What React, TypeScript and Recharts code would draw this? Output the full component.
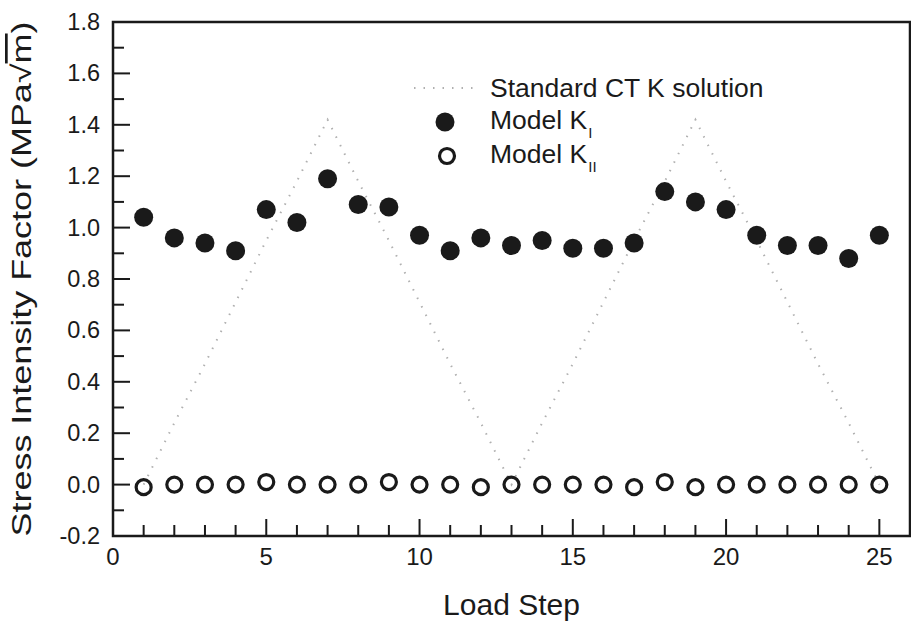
import { ComposedChart, Line, Scatter, XAxis, YAxis, Legend, ReferenceArea } from 'recharts';

// load steps and values
const STEPS = [1, 2, 3, 4, 5, 6, 7, 8, 9, 10, 11, 12, 13, 14, 15, 16, 17, 18, 19, 20, 21, 22, 23, 24, 25];
const K_STANDARD = [0.0, 0.24, 0.47, 0.71, 0.95, 1.18, 1.42, 1.18, 0.95, 0.71, 0.47, 0.24, 0.0, 0.24, 0.47, 0.71, 0.95, 1.18, 1.42, 1.18, 0.95, 0.71, 0.47, 0.24, 0.0];
const K_I = [1.04, 0.96, 0.94, 0.91, 1.07, 1.02, 1.19, 1.09, 1.08, 0.97, 0.91, 0.96, 0.93, 0.95, 0.92, 0.92, 0.94, 1.14, 1.1, 1.07, 0.97, 0.93, 0.93, 0.88, 0.97];
const K_II = [-0.01, 0.0, 0.0, 0.0, 0.01, 0.0, 0.0, 0.0, 0.01, 0.0, 0.0, -0.01, 0.0, 0.0, 0.0, 0.0, -0.01, 0.01, -0.01, 0.0, 0.0, 0.0, 0.0, 0.0, 0.0];

const X_TICKS = [0, 1, 2, 3, 4, 5, 6, 7, 8, 9, 10, 11, 12, 13, 14, 15, 16, 17, 18, 19, 20, 21, 22, 23, 24, 25, 26];
const Y_TICKS = [-0.2, -0.1, 0, 0.1, 0.2, 0.3, 0.4, 0.5, 0.6, 0.7, 0.8, 0.9, 1.0, 1.1, 1.2, 1.3, 1.4, 1.5, 1.6, 1.7, 1.8];

const data = STEPS.map((step, i) => ({ step, std: K_STANDARD[i], kI: K_I[i], kII: K_II[i] }));

const FONT = '"Liberation Sans", Arial, Helvetica, sans-serif';
const INK = '#1a1a1a';
const MAJOR = 17;
const MINOR = 11;

const isMajorX = (v: number) => v % 5 === 0;
const isMajorY = (v: number) => Math.round(v * 10) % 2 === 0;

const BottomTick = ({ x, y, payload }: any) => {
  const major = isMajorX(payload.value);
  return (
    <g>
      <path d={`M${x},${y}V${y - (major ? MAJOR : MINOR)}`} stroke={INK} strokeWidth={2} fill="none" />
      {major && (
        <text x={x} y={y + 29} textAnchor="middle" fontSize={24} fontFamily={FONT} fill={INK}>
          {payload.value}
        </text>
      )}
    </g>
  );
};

const TopTick = ({ x, y, payload }: any) => {
  const major = isMajorX(payload.value);
  return <path d={`M${x},${y}V${y + (major ? MAJOR : MINOR)}`} stroke={INK} strokeWidth={2} fill="none" />;
};

const LeftTick = ({ x, y, payload }: any) => {
  const major = isMajorY(payload.value);
  return (
    <g>
      <path d={`M${x},${y}H${x + (major ? MAJOR : MINOR)}`} stroke={INK} strokeWidth={2} fill="none" />
      {major && (
        <text x={x - 13} y={y + 8} textAnchor="end" fontSize={23.5} fontFamily={FONT} fill={INK}>
          {Number(payload.value).toFixed(1)}
        </text>
      )}
    </g>
  );
};

const RightTick = ({ x, y, payload }: any) => {
  const major = isMajorY(payload.value);
  return <path d={`M${x},${y}H${x - (major ? MAJOR : MINOR)}`} stroke={INK} strokeWidth={2} fill="none" />;
};

const YTitle = (props: any) => {
  const vb = props.viewBox || { x: 0, y: 22, width: 113, height: 514 };
  const cx = vb.x + 22;
  const cy = vb.y + vb.height / 2;
  return (
    <text
      x={cx}
      y={cy}
      transform={`rotate(-90 ${cx} ${cy})`}
      textAnchor="middle"
      dominantBaseline="central"
      fontSize={27}
      fontFamily={FONT}
      fill={INK}
      textLength={515}
      lengthAdjust="spacingAndGlyphs"
    >
      Stress Intensity Factor (MPa√<tspan style={{ textDecoration: 'overline' }}>m</tspan>)
    </text>
  );
};

const FilledDot = (props: any) => <circle cx={props.cx} cy={props.cy} r={9.5} fill={INK} />;
const OpenDot = (props: any) => (
  <circle cx={props.cx} cy={props.cy} r={7.5} fill="none" stroke={INK} strokeWidth={3.2} />
);

const LegendRow = ({ marker, children }: any) => (
  <div style={{ display: 'flex', alignItems: 'center', height: 34 }}>
    <svg width={70} height={34}>{marker}</svg>
    <span style={{ marginLeft: 10, whiteSpace: 'nowrap' }}>{children}</span>
  </div>
);

const sub = { fontSize: 15, position: 'relative' as const, top: 9, marginLeft: 1 };

const renderLegend = () => (
  <div style={{ fontFamily: FONT, fontSize: 26.5, color: INK, lineHeight: '34px' }}>
    <LegendRow
      marker={<line x1={4} x2={68} y1={17} y2={17} stroke="#b0b0b0" strokeWidth={2} strokeDasharray="1.5 8" />}
    >
      Standard CT K solution
    </LegendRow>
    <LegendRow marker={<circle cx={35} cy={17} r={9.5} fill={INK} />}>
      Model K<span style={sub}>I</span>
    </LegendRow>
    <LegendRow marker={<circle cx={37} cy={17} r={7.5} fill="none" stroke={INK} strokeWidth={3.2} />}>
      Model K<span style={sub}>II</span>
    </LegendRow>
  </div>
);

export default function App() {
  return (
    <div style={{ position: 'absolute', left: 0, top: 0, background: '#fff' }}>
      <ComposedChart width={911} height={622} data={data} margin={{ top: 22, right: 1, bottom: 0, left: 0 }}>
        <XAxis
          dataKey="step"
          type="number"
          domain={[0, 26]}
          ticks={X_TICKS}
          interval={0}
          height={86}
          tickSize={0}
          tickMargin={0}
          tickLine={false}
          tick={<BottomTick />}
          axisLine={false}
          label={{ value: 'Load Step', position: 'insideBottom', offset: 7, fontSize: 30, fontFamily: FONT, fill: INK }}
        />
        <XAxis
          xAxisId="top"
          orientation="top"
          dataKey="step"
          type="number"
          domain={[0, 26]}
          ticks={X_TICKS}
          interval={0}
          height={0}
          tickSize={0}
          tickMargin={0}
          tickLine={false}
          tick={<TopTick />}
          axisLine={false}
        />
        <YAxis
          type="number"
          domain={[-0.2, 1.8]}
          ticks={Y_TICKS}
          interval={0}
          width={113}
          tickSize={0}
          tickMargin={0}
          tickLine={false}
          tick={<LeftTick />}
          axisLine={false}
          label={<YTitle />}
        />
        <YAxis
          yAxisId="right"
          orientation="right"
          type="number"
          domain={[-0.2, 1.8]}
          ticks={Y_TICKS}
          interval={0}
          width={0}
          tickSize={0}
          tickMargin={0}
          tickLine={false}
          tick={<RightTick />}
          axisLine={false}
        />
        <ReferenceArea
          x1={0}
          x2={26}
          y1={-0.2}
          y2={1.8}
          fill="none"
          stroke={INK}
          strokeWidth={2.5}
          ifOverflow="visible"
        />
        <Legend
          layout="vertical"
          align="center"
          verticalAlign="middle"
          content={renderLegend}
          wrapperStyle={{ left: 410, top: 71 }}
        />
        <Line
          dataKey="std"
          type="linear"
          stroke="#b0b0b0"
          strokeWidth={2}
          strokeDasharray="1.5 8"
          dot={false}
          activeDot={false}
          isAnimationActive={false}
        />
        <Scatter dataKey="kII" shape={OpenDot} isAnimationActive={false} />
        <Scatter dataKey="kI" shape={FilledDot} isAnimationActive={false} />
      </ComposedChart>
    </div>
  );
}
